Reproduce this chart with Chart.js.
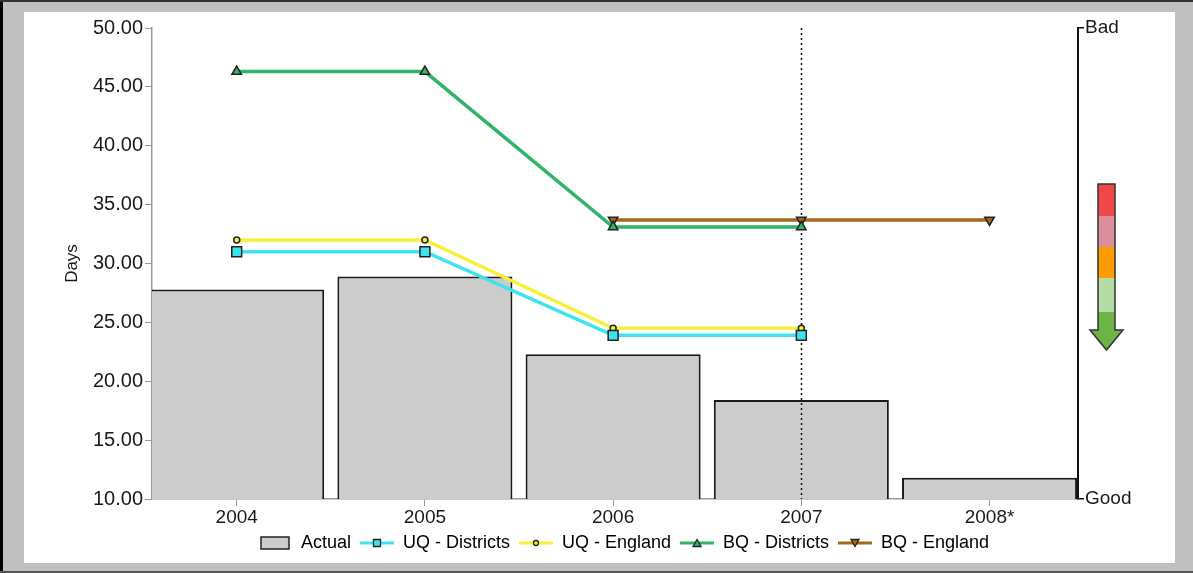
<!DOCTYPE html>
<html>
<head>
<meta charset="utf-8">
<script src="https://cdn.jsdelivr.net/npm/chart.js@4.4.1/dist/chart.umd.min.js"></script>
<style>
  html, body { margin: 0; padding: 0; width: 1193px; height: 573px; overflow: hidden; background: #c0c0c0; }
  .edge { position: absolute; }
  #panel { position: absolute; left: 24px; top: 12px; width: 1151px; height: 551px; background: #fff; }
  #chart { position: absolute; left: 0; top: 0; }
</style>
</head>
<body>
<div class="edge" style="left:0;top:0;width:3px;height:573px;background:#000"></div>
<div class="edge" style="left:0;top:0;width:1193px;height:2px;background:#333"></div>
<div class="edge" style="left:0;top:571px;width:1193px;height:2px;background:#555"></div>
<div id="panel"></div>
<canvas id="chart" width="1193" height="573"></canvas>
<script>
// values
const years = ['2004', '2005', '2006', '2007', '2008*'];
const actual = [27.8, 28.9, 22.3, 18.4, 11.8];
const uqDistricts = [31.0, 31.0, 23.9, 23.9, null];
const uqEngland = [32.0, 32.0, 24.5, 24.5, null];
const bqDistricts = [46.3, 46.3, 33.1, 33.1, null];
const bqEngland = [null, null, 33.7, 33.7, 33.7];
const yMin = 10, yMax = 50, yStep = 5;
const rightLabels = { 10: 'Good', 50: 'Bad' };
const markerYear = '2007';

Chart.defaults.font.family = '"Liberation Sans", Arial, sans-serif';
Chart.defaults.color = '#1a1a1a';

const pts = arr => arr.map((v, i) => ({ x: i, y: v }));

function lineSet(label, data, color, style, radius, rotation) {
    return {
        type: 'line', label: label, data: pts(data),
        borderColor: color, borderWidth: 3.5, tension: 0,
        pointStyle: style, pointRadius: radius, pointRotation: rotation || 0,
        pointBackgroundColor: color, pointBorderColor: '#222', pointBorderWidth: 1.5,
        order: 1
    };
}

// small canvases used as legend symbols (line + marker, or the grey box)
function legendIcon(ds) {
    const c = document.createElement('canvas');
    const g = c.getContext('2d');
    if (ds.type === 'bar') {
        c.width = 30; c.height = 14;
        g.fillStyle = ds.backgroundColor;
        g.fillRect(1, 1, 28, 12);
        g.strokeStyle = '#222'; g.lineWidth = 1.5;
        g.strokeRect(1, 1, 28, 12);
        return c;
    }
    c.width = 34; c.height = 14;
    g.strokeStyle = ds.borderColor; g.lineWidth = 3;
    g.beginPath(); g.moveTo(0, 7); g.lineTo(34, 7); g.stroke();
    g.fillStyle = ds.pointBackgroundColor; g.strokeStyle = '#222'; g.lineWidth = 1.3;
    g.beginPath();
    if (ds.pointStyle === 'rect') g.rect(13.5, 3.5, 7, 7);
    else if (ds.pointStyle === 'circle') g.arc(17, 7, 2.5, 0, Math.PI * 2);
    else if (ds.pointRotation === 180) { g.moveTo(13, 3.5); g.lineTo(21, 3.5); g.lineTo(17, 10.5); g.closePath(); }
    else { g.moveTo(13, 10.5); g.lineTo(21, 10.5); g.lineTo(17, 3.5); g.closePath(); }
    g.fill(); g.stroke();
    return c;
}

const dottedLine = {
    id: 'dottedLine',
    afterDatasetDraw(chart, args) {
        if (args.index !== 0) return;
        const ctx = chart.ctx, a = chart.chartArea;
        const x = Math.round(chart.scales.x.getPixelForValue(years.indexOf(markerYear))) + 0.5;
        ctx.save();
        ctx.strokeStyle = '#111'; ctx.lineWidth = 1.5; ctx.setLineDash([2, 3]);
        ctx.beginPath(); ctx.moveTo(x, a.top); ctx.lineTo(x, a.bottom); ctx.stroke();
        ctx.restore();
    }
};

// good/bad direction arrow next to the right axis
const arrow = {
    id: 'arrow',
    afterDraw(chart) {
        const ctx = chart.ctx;
        const x0 = chart.chartArea.right + 20, w = 17, top = 184;
        const bands = [['#f04848', 32], ['#dc909c', 31], ['#ff9d00', 31], ['#b6dca6', 34], ['#6db345', 18]];
        let y = top;
        ctx.save();
        bands.forEach(b => { ctx.fillStyle = b[0]; ctx.fillRect(x0, y, w, b[1]); y += b[1]; });
        ctx.beginPath();
        ctx.moveTo(x0 - 8, y); ctx.lineTo(x0 + w + 8, y); ctx.lineTo(x0 + w / 2, y + 20); ctx.closePath();
        ctx.fillStyle = '#6db345'; ctx.fill();
        ctx.strokeStyle = '#333'; ctx.lineWidth = 1.5;
        ctx.beginPath();
        ctx.moveTo(x0, y); ctx.lineTo(x0, top); ctx.lineTo(x0 + w, top); ctx.lineTo(x0 + w, y);
        ctx.lineTo(x0 + w + 8, y); ctx.lineTo(x0 + w / 2, y + 20); ctx.lineTo(x0 - 8, y); ctx.closePath();
        ctx.stroke();
        ctx.restore();
    }
};

const datasets = [
    {
        type: 'bar', label: 'Actual', data: pts(actual),
        backgroundColor: '#cccccc', borderColor: '#1a1a1a', borderWidth: 2,
        categoryPercentage: 1, barPercentage: 0.93, order: 10
    },
    lineSet('UQ - Districts', uqDistricts, '#3fe3ee', 'rect', 7),
    lineSet('UQ - England', uqEngland, '#f6f03a', 'circle', 3),
    lineSet('BQ - Districts', bqDistricts, '#2fb56a', 'triangle', 5.5),
    lineSet('BQ - England', bqEngland, '#a36a1c', 'triangle', 5.5, 180)
];

new Chart(document.getElementById('chart'), {
    type: 'bar',
    data: { datasets: datasets },
    plugins: [dottedLine, arrow],
    options: {
        responsive: false,
        animation: false,
        // negative right padding only pushes the legend's centre to the right
        layout: { padding: { left: 24, right: -30, top: 28, bottom: 11 } },
        scales: {
            x: {
                type: 'linear', min: -0.45, max: 4.47, offset: false,
                afterBuildTicks: s => { s.ticks = years.map((_, i) => ({ value: i })); },
                afterFit: s => { s.height = 26; },
                ticks: { callback: v => years[v], font: { size: 19 }, padding: 0, maxRotation: 0 },
                grid: { offset: false, drawOnChartArea: false, color: '#999', tickLength: 7 },
                border: { color: '#999', width: 1.5 }
            },
            y: {
                min: yMin, max: yMax,
                afterFit: s => { s.width = 128; },
                ticks: { stepSize: yStep, callback: v => v.toFixed(2), font: { size: 20 }, padding: 2 },
                grid: { drawOnChartArea: false, color: '#999', tickLength: 7 },
                border: { color: '#999', width: 1.5 },
                title: { display: true, text: 'Days', font: { size: 17 }, padding: { top: 38, bottom: 0 } }
            },
            y2: {
                position: 'right', min: yMin, max: yMax,
                afterBuildTicks: s => { s.ticks = [{ value: yMin }, { value: yMax }]; },
                afterFit: s => { s.width = 145; },
                ticks: { callback: v => rightLabels[v], font: { size: 19 }, padding: 1 },
                grid: { drawOnChartArea: false, color: '#111', tickLength: 6, lineWidth: 1.5 },
                border: { color: '#111', width: 2 }
            }
        },
        plugins: {
            tooltip: { enabled: false },
            legend: {
                position: 'bottom',
                labels: {
                    usePointStyle: true, pointStyleWidth: 34, padding: 9,
                    font: { size: 18 },
                    generateLabels: chart => chart.data.datasets.map((ds, i) => ({
                        text: ds.label, datasetIndex: i, hidden: false,
                        pointStyle: legendIcon(ds), rotation: 0,
                        fillStyle: 'transparent', strokeStyle: 'transparent', lineWidth: 0
                    }))
                }
            }
        }
    }
});
</script>
</body>
</html>
